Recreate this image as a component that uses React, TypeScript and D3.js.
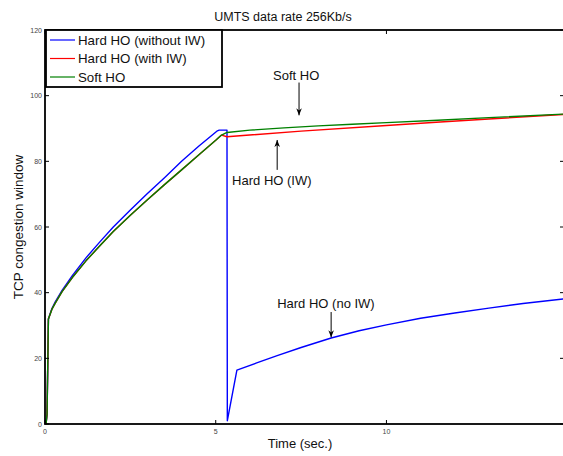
import React from "react";
import * as d3 from "d3";

const title = "UMTS data rate 256Kb/s";
const xLabel = "Time (sec.)";
const yLabel = "TCP congestion window";
const xTicks = [0, 5, 10];
const yTicks = [0, 20, 40, 60, 80, 100, 120];
const seriesNames = ["Hard HO (without IW)", "Hard HO (with IW)", "Soft HO"];
const seriesColors = ["#0000ff", "#ff0000", "#008000"];

// Hard HO without IW (blue)
const hardNoIW: [number, number][] = [
  [0.03, 0], [0.06, 3], [0.1, 32], [0.2, 35.1], [0.3, 37.2], [0.5, 40.7],
  [0.8, 45.2], [1.2, 50.6], [1.6, 55.4], [2.0, 60], [2.5, 65.2],
  [3.0, 70.2], [3.5, 75.0], [4.0, 80.0], [4.5, 84.6], [5.05, 89.3],
  [5.1, 89.5], [5.33, 89.5], [5.34, 1], [5.62, 16.4], [6.2, 18.6],
  [6.8, 20.8], [7.5, 23.3], [8.38, 26.2], [9.2, 28.4], [10, 30.2],
  [11, 32.2], [12, 33.8], [13, 35.3], [14, 36.7], [15.2, 38.1],
];

// shared slow-start phase of red and green
const growthIW: [number, number][] = [
  [0.03, 0], [0.06, 3], [0.1, 32], [0.2, 34.9], [0.3, 36.8], [0.5, 40.3],
  [0.8, 44.6], [1.2, 49.7], [1.6, 54.2], [2.0, 58.6], [2.5, 63.6],
  [3.0, 68.3], [3.5, 72.9], [4.0, 77.4], [4.5, 81.9], [5.0, 86.4], [5.17, 88],
];
const hardIWAfter: [number, number][] = [
  [5.33, 87.5], [7.5, 89.2], [10, 90.9], [11.57, 92.0], [13, 92.9], [15.2, 94.3],
];
const softAfter: [number, number][] = [
  [5.33, 88.8], [6, 89.5], [7, 90.2], [8, 90.8], [9, 91.3], [10, 91.8],
  [11.5, 92.5], [13, 93.3], [15.2, 94.4],
];

const annotations = [
  { text: "Soft HO", tx: 6.68, ty: 104.7, ax: 7.44, ay1: 104.0, ay2: 94.0 },
  { text: "Hard HO (IW)", tx: 5.48, ty: 72.8, ax: 6.8, ay1: 77.4, ay2: 86.5 },
  { text: "Hard HO (no IW)", tx: 6.8, ty: 35.4, ax: 8.38, ay1: 34.1, ay2: 26.4 },
];

const W = 563;
const H = 456;
const M = { left: 45, right: 564, top: 30, bottom: 424 };
const FONT = "Arial, 'Liberation Sans', sans-serif";

export default function App() {
  const x = d3.scaleLinear().domain([0, 15.2]).range([M.left, M.right]);
  const y = d3.scaleLinear().domain([0, 120]).range([M.bottom, M.top]);
  const line = d3
    .line<[number, number]>()
    .x((d) => x(d[0]))
    .y((d) => y(d[1]))
    .curve(d3.curveLinear);

  const series = [hardNoIW, growthIW.concat(hardIWAfter), growthIW.concat(softAfter)];
  const tickLen = 4;

  return (
    <svg
      width={W}
      height={H}
      style={{ position: "absolute", left: 0, top: 0, background: "#fff" }}
      fontFamily={FONT}
    >
      <defs>
        <clipPath id="plotclip">
          <rect x={M.left} y={M.top} width={M.right - M.left} height={M.bottom - M.top} />
        </clipPath>
        <marker id="arrow" viewBox="0 0 10 10" refX="10" refY="5" markerWidth="7" markerHeight="9" orient="auto" markerUnits="userSpaceOnUse">
          <path d="M0,1 L10,5 L0,9 L3,5 Z" fill="#000" />
        </marker>
      </defs>

      <text x={283} y={21} textAnchor="middle" fontSize={12.5} fill="#111">
        {title}
      </text>

      {/* lines */}
      <g clipPath="url(#plotclip)">
        {series.map((s, i) => (
          <path key={i} d={line(s) || ""} fill="none" stroke={seriesColors[i]} strokeWidth={1.4} strokeLinejoin="round" />
        ))}
      </g>

      {/* frame */}
      <rect
        x={M.left}
        y={M.top}
        width={M.right - M.left}
        height={M.bottom - M.top}
        fill="none"
        stroke="#000"
        strokeWidth={1.8}
      />

      {/* ticks */}
      {yTicks.map((t) => (
        <g key={"y" + t}>
          <line x1={M.left} x2={M.left + tickLen} y1={y(t)} y2={y(t)} stroke="#000" strokeWidth={1} />
          <line x1={M.right} x2={M.right - tickLen} y1={y(t)} y2={y(t)} stroke="#000" strokeWidth={1} />
          <text x={M.left - 3} y={y(t) + 2.5} textAnchor="end" fontSize={7} fill="#444">
            {t}
          </text>
        </g>
      ))}
      {xTicks.map((t) => (
        <g key={"x" + t}>
          <line x1={x(t)} x2={x(t)} y1={M.bottom} y2={M.bottom - tickLen} stroke="#000" strokeWidth={1} />
          <line x1={x(t)} x2={x(t)} y1={M.top} y2={M.top + tickLen} stroke="#000" strokeWidth={1} />
          <text x={x(t)} y={M.bottom + 10} textAnchor="middle" fontSize={7} fill="#444">
            {t}
          </text>
        </g>
      ))}

      <text x={300} y={448} textAnchor="middle" fontSize={13} fill="#111">
        {xLabel}
      </text>
      <text
        transform={`translate(23,227) rotate(-90)`}
        textAnchor="middle"
        fontSize={13.5}
        fill="#111"
      >
        {yLabel}
      </text>

      {/* annotations */}
      {annotations.map((a, i) => (
        <g key={"a" + i}>
          <text x={x(a.tx)} y={y(a.ty)} fontSize={13} fill="#111">
            {a.text}
          </text>
          <line
            x1={x(a.ax)}
            x2={x(a.ax)}
            y1={y(a.ay1)}
            y2={y(a.ay2)}
            stroke="#000"
            strokeWidth={1}
            markerEnd="url(#arrow)"
          />
        </g>
      ))}

      {/* legend */}
      <g>
        <rect x={46} y={30} width={176} height={57} fill="#fff" stroke="#000" strokeWidth={1.8} />
        {seriesNames.map((n, i) => (
          <g key={n}>
            <line x1={50} x2={75} y1={40 + i * 18.5} y2={40 + i * 18.5} stroke={seriesColors[i]} strokeWidth={1.2} />
            <text x={78} y={40 + i * 18.5 + 4.5} fontSize={13.3} fill="#111">
              {n}
            </text>
          </g>
        ))}
      </g>
    </svg>
  );
}
